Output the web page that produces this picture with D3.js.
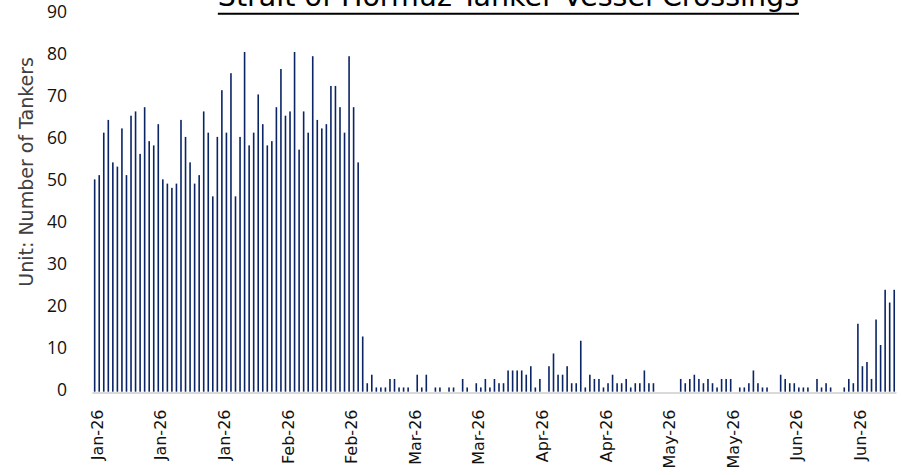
<!DOCTYPE html>
<html>
<head>
<meta charset="utf-8">
<script src="https://cdnjs.cloudflare.com/ajax/libs/d3/7.8.5/d3.min.js"></script>
<style>
  body { margin: 0; background: #fff; }
</style>
</head>
<body>
<div id="chart"></div>
<script>
// daily categories, 1 Jan 2026 .. 26 Jun 2026
var startDay = new Date(2026, 0, 1);
var endDay = new Date(2026, 5, 27);
var days = d3.timeDay.range(startDay, endDay);

// tanker crossings per day
var tankers = [
  50, 51, 61, 64, 54, 53, 62, 51, 65, 66,
  56, 67, 59, 58, 63, 50, 49, 48, 49, 64,
  60, 54, 49, 51, 66, 61, 46, 60, 71, 61,
  75, 46, 60, 80, 58, 61, 70, 63, 58, 59,
  67, 76, 65, 66, 80, 57, 66, 61, 79, 64,
  62, 63, 72, 72, 67, 61, 79, 67, 54, 13,
  2, 4, 1, 1, 1, 3, 3, 1, 1, 1,
  0, 4, 1, 4, 0, 1, 1, 0, 1, 1,
  0, 3, 1, 0, 2, 1, 3, 1, 3, 2,
  2, 5, 5, 5, 5, 4, 6, 1, 3, 0,
  6, 9, 4, 4, 6, 2, 2, 12, 1, 4,
  3, 3, 1, 2, 4, 2, 2, 3, 1, 2,
  2, 5, 2, 2, 0, 0, 0, 0, 0, 3,
  2, 3, 4, 3, 2, 3, 2, 1, 3, 3,
  3, 0, 1, 1, 2, 5, 2, 1, 1, 0,
  0, 4, 3, 2, 2, 1, 1, 1, 0, 3,
  1, 2, 1, 0, 0, 1, 3, 2, 16, 6,
  7, 3, 17, 11, 24, 21, 24
];

var yTicks = [0, 10, 20, 30, 40, 50, 60, 70, 80, 90];
var labelEvery = 14; // one date label every 14 days

var chartTitle = "Strait of Hormuz Tanker Vessel Crossings";
var yTitle = "Unit: Number of Tankers";

renderChart();

function renderChart() {
  var width = 903;
  var height = 475;

  var svg = d3.select("#chart")
    .append("svg")
    .attr("width", width)
    .attr("height", height);

  var x = d3.scaleBand()
    .domain(days)
    .range([92.4, 896.5]);

  var y = d3.scaleLinear()
    .domain([0, 90])
    .range([391.7, 9.5]);

  // excel puts its value labels a touch off the bar scale
  var yLab = d3.scaleLinear()
    .domain([0, 90])
    .range([389.5, 12]);

  // bars
  var barW = 1.6;
  svg.append("g")
    .attr("id", "bars")
    .selectAll("rect")
    .data(days)
    .enter().append("rect")
    .attr("x", function(d) { return x(d) + x.bandwidth() / 2 - barW / 2; })
    .attr("y", function(d, i) { return y(tankers[i]); })
    .attr("width", barW)
    .attr("height", function(d, i) { return y(0) - y(tankers[i]); })
    .attr("fill", "#0a2466");

  // category axis line
  svg.append("line")
    .attr("x1", x.range()[0])
    .attr("x2", x.range()[1])
    .attr("y1", 393)
    .attr("y2", 393)
    .attr("stroke", "#d9d9d9")
    .attr("stroke-width", 2);

  // y labels
  var gy = svg.append("g")
    .attr("transform", "translate(67,0)")
    .call(d3.axisLeft(yLab).tickValues(yTicks).tickSize(0).tickPadding(0));
  gy.select(".domain").remove();
  gy.selectAll("text")
    .attr("font-family", "'Open Sans', sans-serif")
    .attr("font-size", "17.5px")
    .attr("fill", "#111");

  // date labels, rotated
  var gx = svg.append("g")
    .attr("transform", "translate(0,409.5)")
    .call(d3.axisBottom(x)
      .tickValues(days.filter(function(d, i) { return i % labelEvery === 0; }))
      .tickFormat(d3.timeFormat("%b-%y"))
      .tickSize(0));
  gx.select(".domain").remove();
  gx.selectAll("text")
    .attr("transform", "rotate(-90)")
    .attr("text-anchor", "end")
    .attr("x", 0)
    .attr("y", 2.5)
    .attr("dy", "0.35em")
    .attr("font-family", "'DejaVu Sans', sans-serif")
    .attr("font-size", "16px")
    .attr("fill", "#111");

  // axis title
  svg.append("text")
    .attr("transform", "translate(33,57) rotate(-90)")
    .attr("text-anchor", "end")
    .attr("font-family", "'DejaVu Sans', sans-serif")
    .attr("font-size", "19px")
    .attr("fill", "#404040")
    .text(yTitle);

  // title, cut off at the top like the original
  var title = svg.append("text")
    .attr("x", 799)
    .attr("y", 5.5)
    .attr("text-anchor", "end")
    .attr("font-family", "'DejaVu Sans', sans-serif")
    .attr("font-size", "28.5px")
    .attr("fill", "#000")
    .text(chartTitle);

  var tw = title.node().getComputedTextLength();
  svg.append("line")
    .attr("x1", 799 - tw)
    .attr("x2", 799)
    .attr("y1", 13.8)
    .attr("y2", 13.8)
    .attr("stroke", "#000")
    .attr("stroke-width", 2);
}
</script>
</body>
</html>
